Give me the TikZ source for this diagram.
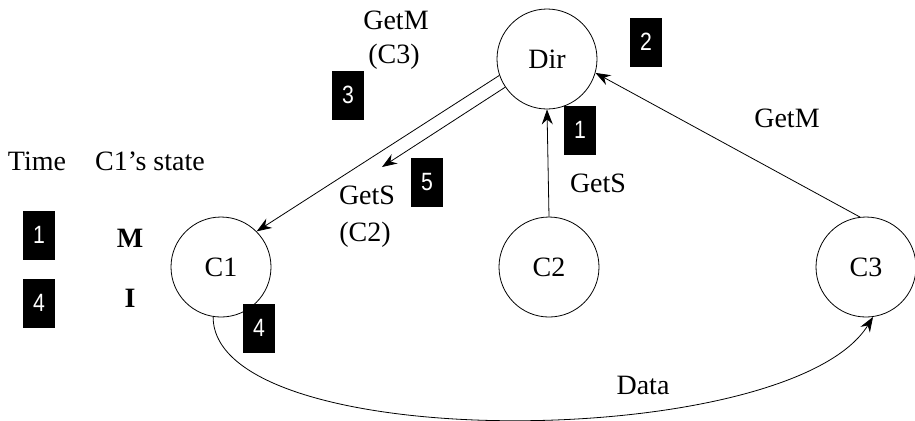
\documentclass[tikz,border=0pt]{standalone}
\usepackage{fontspec}
\setmainfont{Liberation Serif}
\newfontfamily\boxfont[FakeStretch=0.85]{Liberation Sans}
\usepackage{tikz}
\usetikzlibrary{arrows.meta,positioning}
\tikzset{
  cohnode/.style={draw,circle,thin,minimum size=50pt,inner sep=0pt,font=\fontsize{14}{16}\selectfont},
  cohlbl/.style={inner sep=1pt,font=\fontsize{14}{16}\selectfont},
  cohbox/.style={fill=black,text=white,minimum width=16pt,minimum height=24.5pt,inner sep=0pt,font=\boxfont\fontsize{12.5}{14}\selectfont},
  coharr/.style={-{Stealth[length=7.5pt,width=5.5pt,inset=2.5pt]},thin}
}
\begin{document}
\begin{tikzpicture}[x=0.5pt,y=-0.5pt]
\useasboundingbox (0,0) rectangle (915,420);
% caches and directory
\node[cohnode] (Dir) at (547,59) {Dir};
\node[cohnode] (C1) at (221,267) {C1};
\node[cohnode] (C2) at (549,267) {C2};
\node[cohnode] (C3) at (866,267) {C3};
\coordinate (fwdend) at (382,167);
% messages
\draw[coharr] (Dir.199) -- (C1.45);
\draw[coharr] (Dir.214) -- (fwdend);
\draw[coharr] (C2.north) -- (Dir.south);
\draw[coharr] (C3.97) -- (Dir.-16);
\draw[coharr] (C1.-99) .. controls (213,456) and (790,452) .. (C3.-82);
% labels
\node[cohlbl] (getmc) at (396,20) {GetM};
\node[cohlbl] (getmcc) at (394,57) {(C3)};
\node[cohlbl] (getsc) at (367,195) {GetS};
\node[cohlbl] (getscc) at (365,235) {(C2)};
\node[cohlbl] (getsr) at (598,183) {GetS};
\node[cohlbl] (getmr) at (787,118) {GetM};
\node[cohlbl] (data) at (643,385) {Data};
\node[cohlbl] (time) at (37,161) {Time};
\node[cohlbl] (state) at (150,161) {C1’s state};
\node[cohlbl,font=\fontsize{14}{16}\selectfont\bfseries] (stm) at (130,238) {M};
\node[cohlbl,font=\fontsize{14}{16}\selectfont\bfseries] (sti) at (130,298) {I};
% time steps
\node[cohbox] (t1) at (39,235) {1};
\node[cohbox] (t4) at (39,303) {4};
\node[cohbox] (s1) at (580,130) {1};
\node[cohbox] (s2) at (646,42) {2};
\node[cohbox] (s3) at (348,95) {3};
\node[cohbox] (s4) at (259,328) {4};
\node[cohbox] (s5) at (427,182) {5};
\end{tikzpicture}
\end{document}
